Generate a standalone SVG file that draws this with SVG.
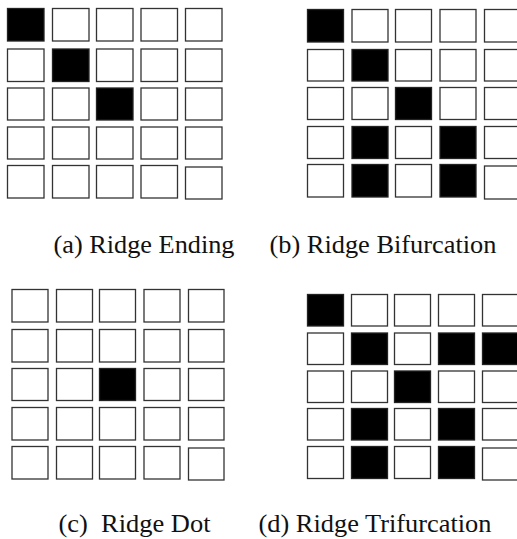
<svg xmlns="http://www.w3.org/2000/svg" width="517" height="539" viewBox="0 0 517 539">
<style>
.c{fill:#fff;stroke:#333;stroke-width:1.3}
.f{fill:#000;stroke:#222;stroke-width:1.3}
.t{font-family:'Liberation Serif',Tinos,'Times New Roman',Times,serif;font-size:25px;fill:#111}
</style>
<rect width="517" height="539" fill="#fff"/>
<g id="grid-a">
<rect class="f" x="7.5" y="8.5" width="36.5" height="32.5"/><rect class="c" x="52.5" y="8.5" width="36.5" height="32.5"/><rect class="c" x="96.5" y="8.5" width="36.5" height="32.5"/><rect class="c" x="141" y="8.5" width="36.5" height="32.5"/><rect class="c" x="185.5" y="8.5" width="36.5" height="32.5"/>
<rect class="c" x="7.5" y="49" width="36.5" height="32.5"/><rect class="f" x="52.5" y="49" width="36.5" height="32.5"/><rect class="c" x="96.5" y="49" width="36.5" height="32.5"/><rect class="c" x="141" y="49" width="36.5" height="32.5"/><rect class="c" x="185.5" y="49" width="36.5" height="32.5"/>
<rect class="c" x="7.5" y="88" width="36.5" height="32"/><rect class="c" x="52.5" y="88" width="36.5" height="32"/><rect class="f" x="96.5" y="88" width="36.5" height="32"/><rect class="c" x="141" y="88" width="36.5" height="32"/><rect class="c" x="185.5" y="88" width="36.5" height="32"/>
<rect class="c" x="7.5" y="127" width="36.5" height="32"/><rect class="c" x="52.5" y="127" width="36.5" height="32"/><rect class="c" x="96.5" y="127" width="36.5" height="32"/><rect class="c" x="141" y="127" width="36.5" height="32"/><rect class="c" x="185.5" y="127" width="36.5" height="32"/>
<rect class="c" x="7.5" y="165.5" width="36.5" height="32.5"/><rect class="c" x="52.5" y="165.5" width="36.5" height="32.5"/><rect class="c" x="96.5" y="165.5" width="36.5" height="32.5"/><rect class="c" x="141" y="165.5" width="36.5" height="32.5"/><rect class="c" x="185.5" y="167" width="36.5" height="32"/>
</g>
<g id="grid-b">
<rect class="f" x="307.5" y="9.5" width="36" height="32.5"/><rect class="c" x="352" y="9.5" width="36" height="32.5"/><rect class="c" x="395.5" y="9.5" width="36" height="32.5"/><rect class="c" x="440" y="9.5" width="36" height="32.5"/><rect class="c" x="484.5" y="9.5" width="36" height="32.5"/>
<rect class="c" x="307.5" y="49.5" width="36" height="31.5"/><rect class="f" x="352" y="49.5" width="36" height="31.5"/><rect class="c" x="395.5" y="49.5" width="36" height="31.5"/><rect class="c" x="440" y="49.5" width="36" height="31.5"/><rect class="c" x="484.5" y="49.5" width="36" height="31.5"/>
<rect class="c" x="307.5" y="87.5" width="36" height="32"/><rect class="c" x="352" y="87.5" width="36" height="32"/><rect class="f" x="395.5" y="87.5" width="36" height="32"/><rect class="c" x="440" y="87.5" width="36" height="32"/><rect class="c" x="484.5" y="87.5" width="36" height="32"/>
<rect class="c" x="307.5" y="126.5" width="36" height="32"/><rect class="f" x="352" y="126.5" width="36" height="32"/><rect class="c" x="395.5" y="126.5" width="36" height="32"/><rect class="f" x="440" y="126.5" width="36" height="32"/><rect class="c" x="484.5" y="126.5" width="36" height="32"/>
<rect class="c" x="307.5" y="164.5" width="36" height="32.5"/><rect class="f" x="352" y="164.5" width="36" height="32.5"/><rect class="c" x="395.5" y="164.5" width="36" height="32.5"/><rect class="f" x="440" y="164.5" width="36" height="32.5"/><rect class="c" x="484.5" y="166" width="36" height="33"/>
</g>
<g id="grid-c">
<rect class="c" x="12" y="289.5" width="36" height="32.5"/><rect class="c" x="56.5" y="289.5" width="36" height="32.5"/><rect class="c" x="99.5" y="289.5" width="36" height="32.5"/><rect class="c" x="144" y="289.5" width="36" height="32.5"/><rect class="c" x="188.5" y="289.5" width="35.5" height="32.5"/>
<rect class="c" x="12" y="329.5" width="36" height="32.5"/><rect class="c" x="56.5" y="329.5" width="36" height="32.5"/><rect class="c" x="99.5" y="329.5" width="36" height="32.5"/><rect class="c" x="144" y="329.5" width="36" height="32.5"/><rect class="c" x="188.5" y="329.5" width="35.5" height="32.5"/>
<rect class="c" x="12" y="368.5" width="36" height="32"/><rect class="c" x="56.5" y="368.5" width="36" height="32"/><rect class="f" x="99.5" y="368.5" width="36" height="32"/><rect class="c" x="144" y="368.5" width="36" height="32"/><rect class="c" x="188.5" y="368.5" width="35.5" height="32"/>
<rect class="c" x="12" y="407.5" width="36" height="32.5"/><rect class="c" x="56.5" y="407.5" width="36" height="32.5"/><rect class="c" x="99.5" y="407.5" width="36" height="32.5"/><rect class="c" x="144" y="407.5" width="36" height="32.5"/><rect class="c" x="188.5" y="407.5" width="35.5" height="32.5"/>
<rect class="c" x="12" y="446.5" width="36" height="32.5"/><rect class="c" x="56.5" y="446.5" width="36" height="32.5"/><rect class="c" x="99.5" y="446.5" width="36" height="32.5"/><rect class="c" x="144" y="446.5" width="36" height="32.5"/><rect class="c" x="188.5" y="448" width="35.5" height="32"/>
</g>
<g id="grid-d">
<rect class="f" x="307.5" y="294.5" width="36" height="31.5"/><rect class="c" x="351.5" y="294.5" width="36" height="31.5"/><rect class="c" x="394.5" y="294.5" width="36" height="31.5"/><rect class="c" x="438.5" y="294.5" width="36" height="31.5"/><rect class="c" x="482.5" y="294.5" width="36" height="31.5"/>
<rect class="c" x="307.5" y="333" width="36" height="31.5"/><rect class="f" x="351.5" y="333" width="36" height="31.5"/><rect class="c" x="394.5" y="333" width="36" height="31.5"/><rect class="f" x="438.5" y="333" width="36" height="31.5"/><rect class="f" x="482.5" y="333" width="36" height="31.5"/>
<rect class="c" x="307.5" y="371" width="36" height="31.5"/><rect class="c" x="351.5" y="371" width="36" height="31.5"/><rect class="f" x="394.5" y="371" width="36" height="31.5"/><rect class="c" x="438.5" y="371" width="36" height="31.5"/><rect class="c" x="482.5" y="371" width="36" height="31.5"/>
<rect class="c" x="307.5" y="408.5" width="36" height="31.5"/><rect class="f" x="351.5" y="408.5" width="36" height="31.5"/><rect class="c" x="394.5" y="408.5" width="36" height="31.5"/><rect class="f" x="438.5" y="408.5" width="36" height="31.5"/><rect class="c" x="482.5" y="408.5" width="36" height="31.5"/>
<rect class="c" x="307.5" y="446.5" width="36" height="32"/><rect class="f" x="351.5" y="446.5" width="36" height="32"/><rect class="c" x="394.5" y="446.5" width="36" height="32"/><rect class="f" x="438.5" y="446.5" width="36" height="32"/><rect class="c" x="482.5" y="448" width="36" height="32"/>
</g>
<g id="captions">
<text class="t" font-family="Liberation Serif" x="53.5" y="253" textLength="181" lengthAdjust="spacingAndGlyphs">(a) Ridge Ending</text>
<text class="t" font-family="Liberation Serif" x="269.5" y="253" textLength="227" lengthAdjust="spacingAndGlyphs">(b) Ridge Bifurcation</text>
<text class="t" font-family="Liberation Serif" x="58.5" y="532" xml:space="preserve" textLength="152" lengthAdjust="spacingAndGlyphs">(c)  Ridge Dot</text>
<text class="t" font-family="Liberation Serif" x="258.5" y="532" textLength="233" lengthAdjust="spacingAndGlyphs">(d) Ridge Trifurcation</text>
</g>
</svg>
